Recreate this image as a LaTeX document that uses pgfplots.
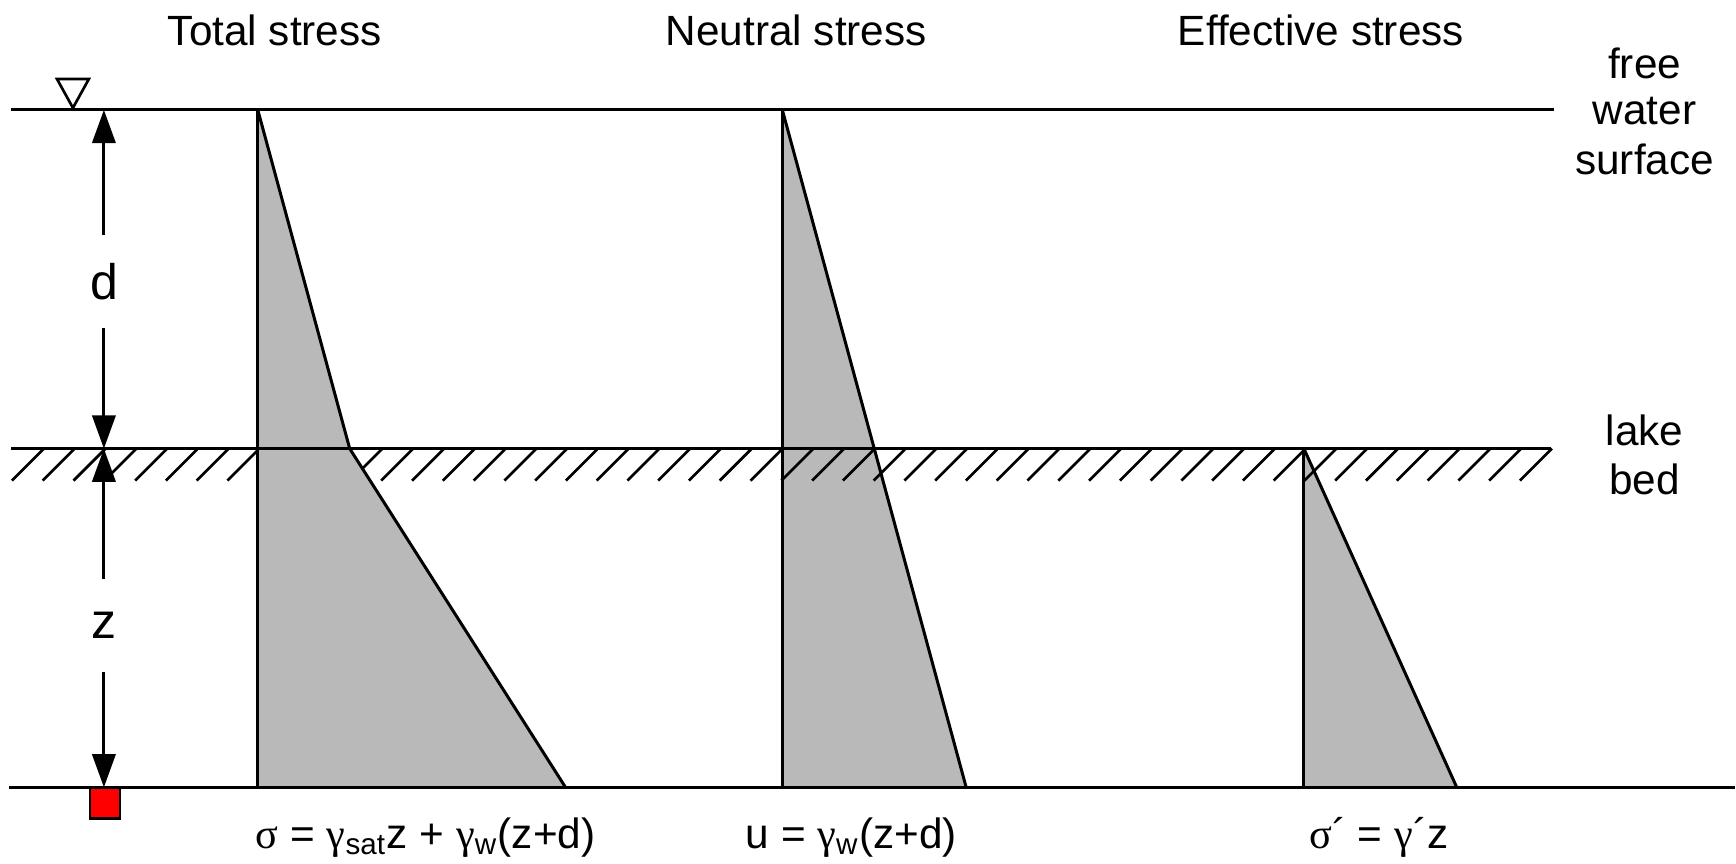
\documentclass[border=0pt]{standalone}
\usepackage{pgfplots}
\pgfplotsset{compat=1.18}
\usetikzlibrary{arrows.meta}
\usepackage{fontspec}
\setmainfont{Liberation Sans}
\newfontfamily\greek{Liberation Serif}

% stress-diagram fill
\definecolor{stressfill}{RGB}{185,185,185}

\tikzset{
  lbl/.style={font=\fontsize{12.7}{15}\selectfont, inner sep=0pt},
  dim/.style={font=\fontsize{15}{18}\selectfont, inner sep=0pt, fill=white,
              minimum height=28pt, minimum width=14pt},
}
\newcommand{\g}[1]{{\greek #1}}

\begin{document}
\begin{tikzpicture}
\begin{axis}[
  width=520.8pt, height=259.2pt,
  scale only axis,
  hide axis,
  clip=false,
  xmin=0, xmax=1736,
  ymin=0, ymax=864,
  y dir=reverse,
]
% keep the full canvas as bounding box
\path[draw=none] (rel axis cs:0,0) rectangle (rel axis cs:1,1);

% neutral and effective stress fills (hatching drawn over them)
\addplot[fill=stressfill, draw=none] coordinates {(783,110) (967,788) (783,788)} -- cycle;
\addplot[fill=stressfill, draw=none] coordinates {(1305,449) (1458,788) (1305,788)} -- cycle;

% lake bed hatching
\pgfplotsinvokeforeach{0,...,49}{
  \draw[line width=0.8pt] (axis cs:{12+30.8*#1},481) -- (axis cs:{44+30.8*#1},449);
}

% total stress fill (covers hatching)
\addplot[fill=stressfill, draw=none] coordinates {(258,110) (350,449) (566,788) (258,788)} -- cycle;

% outlines
\addplot[black, line width=0.9pt] coordinates {(258,110) (258,788)};
\addplot[black, line width=0.9pt] coordinates {(258,110) (350,449) (566,788)};
\addplot[black, line width=0.9pt] coordinates {(783,110) (783,788)};
\addplot[black, line width=0.9pt] coordinates {(783,110) (967,788)};
\addplot[black, line width=0.9pt] coordinates {(1305,449) (1305,788)};
\addplot[black, line width=0.9pt] coordinates {(1305,449) (1458,788)};

% free water surface, lake bed, bottom
\addplot[black, line width=0.9pt] coordinates {(11,110) (1555,110)};
\addplot[black, line width=0.9pt] coordinates {(11,449) (1552,449)};
\addplot[black, line width=0.9pt] coordinates {(9,788) (1736,788)};

% water level symbol
\addplot[black, fill=white, line width=0.8pt] coordinates {(57,79) (89,79) (73,108)} -- cycle;

% depth arrows
\addplot[black, line width=0.9pt, {Triangle[length=10pt,width=7pt]}-{Triangle[length=10pt,width=7pt]}]
  coordinates {(104,110) (104,449)};
\addplot[black, line width=0.9pt, {Triangle[length=10pt,width=7pt]}-{Triangle[length=10pt,width=7pt]}]
  coordinates {(104,449) (104,788)};
\node[dim] at (axis cs:104,282) {d};
\node[dim] at (axis cs:104,626) {z};

% point marker
\addplot[black, fill=red, line width=0.8pt] coordinates {(90,788) (120,788) (120,819) (90,819)} -- cycle;

% titles
\node[lbl] at (axis cs:275,30) {Total stress};
\node[lbl] at (axis cs:797,30) {Neutral stress};
\node[lbl] at (axis cs:1322,30) {Effective stress};

% right labels
\node[lbl] at (axis cs:1646,63) {free};
\node[lbl] at (axis cs:1646,111) {water};
\node[lbl] at (axis cs:1646,160) {surface};
\node[lbl] at (axis cs:1646,431) {lake};
\node[lbl] at (axis cs:1646,480) {bed};

% formulas
\node[lbl] at (axis cs:426,838) {\g{σ} = \g{γ}\textsubscript{sat}z + \g{γ}\textsubscript{w}(z+d)};
\node[lbl] at (axis cs:852,838) {u = \g{γ}\textsubscript{w}(z+d)};
\node[lbl] at (axis cs:1380,838) {\g{σ}´ = \g{γ}´z};
\end{axis}
\end{tikzpicture}
\end{document}
